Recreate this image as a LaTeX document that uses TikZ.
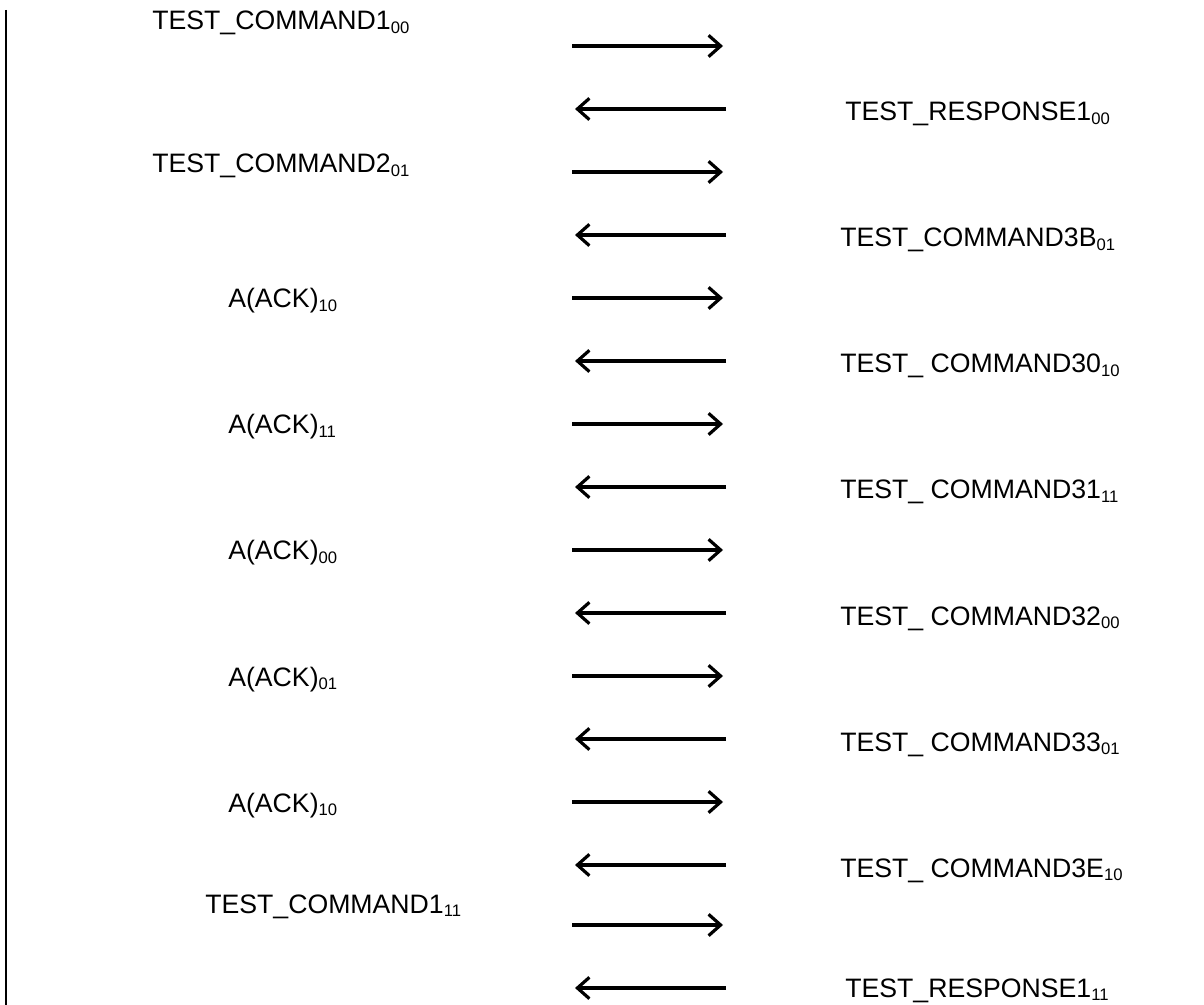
\documentclass[tikz,border=0pt]{standalone}
\usepackage{fontspec}
\setmainfont{Liberation Sans}
\usetikzlibrary{arrows.meta}
\newcommand\lsub[1]{\raisebox{-2.6pt}{\fontsize{12.5}{12.5}\selectfont #1}}
\begin{document}
\begin{tikzpicture}[x=0.75pt,y=-0.75pt,
  lbl/.style={anchor=base west, inner sep=0pt, font=\fontsize{20}{24}\selectfont},
  msg/.style={line width=2.4pt, line join=round, -{Straight Barb[length=9pt,width=16pt,line width=2.4pt]}},
  lifeline/.style={line width=1.8pt}]
\useasboundingbox (0,0) rectangle (1204,1005);
% lifeline
\coordinate (top) at (6,10);
\coordinate (bot) at (6,1005);
\draw[lifeline] (top) -- (bot);
% left labels
\node[lbl] (L1) at (152,30)  {TEST\_COMMAND1\lsub{00}};
\node[lbl] (L2) at (152,173) {TEST\_COMMAND2\lsub{01}};
\node[lbl] (L3) at (228,308) {A(ACK)\lsub{10}};
\node[lbl] (L4) at (228,434) {A(ACK)\lsub{11}};
\node[lbl] (L5) at (228,560) {A(ACK)\lsub{00}};
\node[lbl] (L6) at (228,686) {A(ACK)\lsub{01}};
\node[lbl] (L7) at (228,812) {A(ACK)\lsub{10}};
\node[lbl] (L8) at (205,913) {TEST\_COMMAND1\lsub{11}};
% right labels
\node[lbl] (R1) at (845,121) {TEST\_RESPONSE1\lsub{00}};
\node[lbl] (R2) at (840,247) {TEST\_COMMAND3B\lsub{01}};
\node[lbl] (R3) at (840,373) {TEST\_ COMMAND30\lsub{10}};
\node[lbl] (R4) at (840,499) {TEST\_ COMMAND31\lsub{11}};
\node[lbl] (R5) at (840,625) {TEST\_ COMMAND32\lsub{00}};
\node[lbl] (R6) at (840,751) {TEST\_ COMMAND33\lsub{01}};
\node[lbl] (R7) at (840,877) {TEST\_ COMMAND3E\lsub{10}};
\node[lbl] (R8) at (845,997) {TEST\_RESPONSE1\lsub{11}};
% arrows
\foreach \i/\y in {1/46,2/172,3/298,4/424,5/550,6/676,7/802,8/925}{
  \coordinate (fs\i) at (572,\y);
  \coordinate (fe\i) at (723,\y);
  \draw[msg] (fs\i) -- (fe\i);
}
\foreach \i/\y in {1/109,2/235,3/361,4/487,5/613,6/739,7/865,8/988}{
  \coordinate (bs\i) at (726,\y);
  \coordinate (be\i) at (575,\y);
  \draw[msg] (bs\i) -- (be\i);
}
\end{tikzpicture}
\end{document}
